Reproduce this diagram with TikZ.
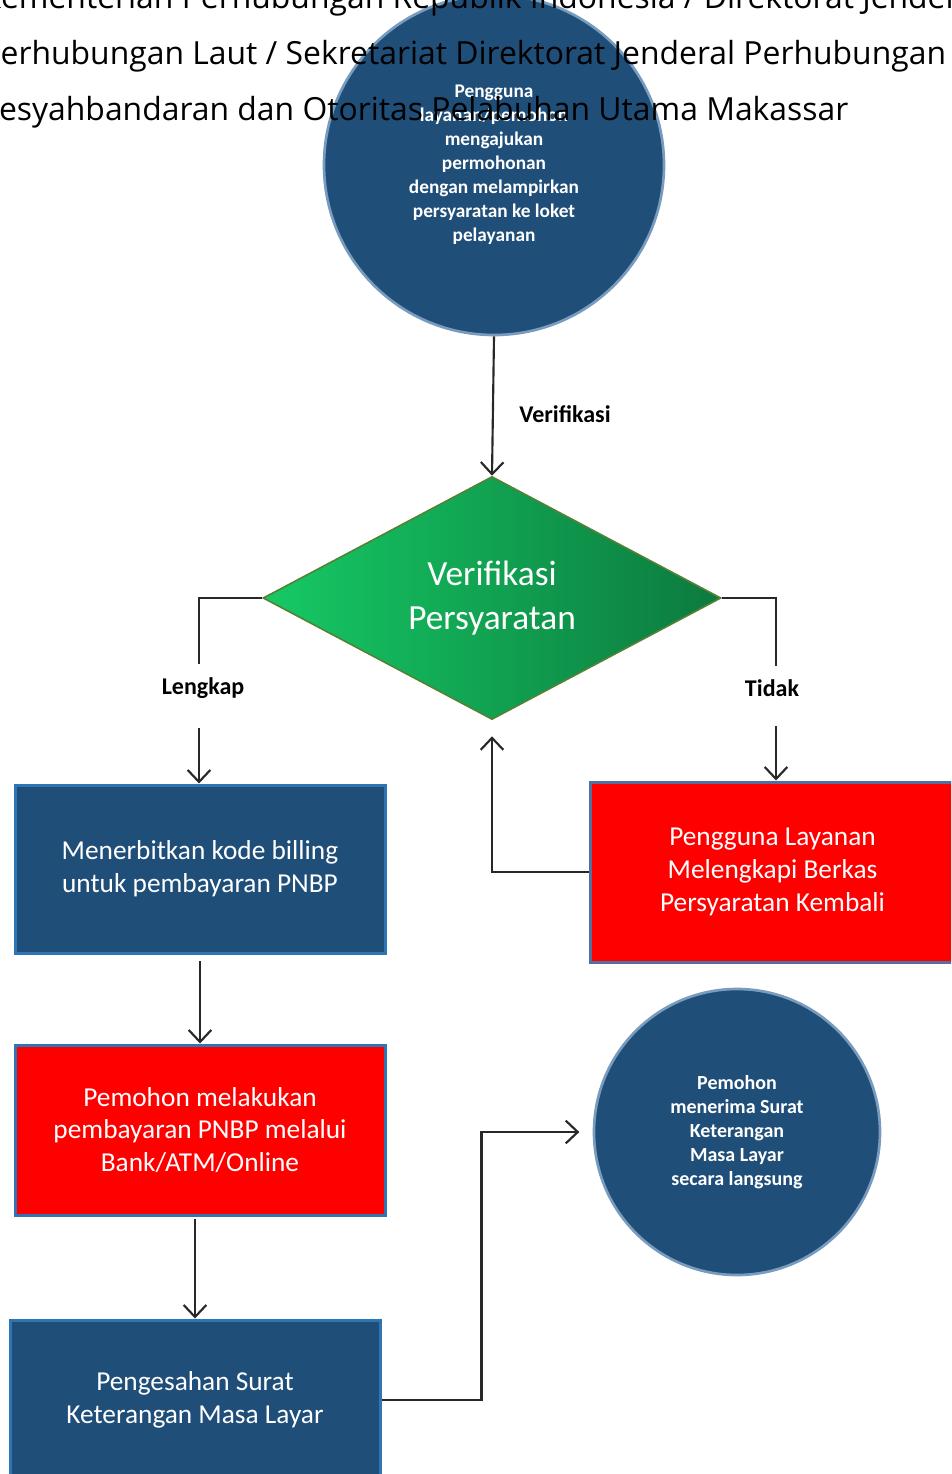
\documentclass[tikz,border=0pt]{standalone}
\usepackage{fontspec}
\setmainfont{Carlito}
\newfontfamily\hdrfont{Open Sans}
\usetikzlibrary{shapes.geometric,arrows.meta}

\definecolor{navy}{RGB}{31,78,121}
\definecolor{edgeblue}{RGB}{46,117,182}
\definecolor{grayblue}{RGB}{84,110,160}
\definecolor{glight}{RGB}{22,201,101}
\definecolor{gdark}{RGB}{12,122,62}
\definecolor{gborder}{RGB}{84,130,53}
\definecolor{linegray}{RGB}{40,40,40}

\tikzset{every picture/.style={line width=0.75pt}}
\tikzset{
  hdr/.style={font=\hdrfont\fontsize{23.9}{28}\selectfont, inner sep=0pt, anchor=base west},
  bulat/.style={circle, fill=navy, draw={rgb,255:red,120;green,155;blue,190}, line width=2pt,
    text=white, font=\fontsize{14.5}{18}\selectfont\bfseries, align=center, inner sep=0pt},
  belah/.style={diamond, draw=gborder, line width=1.2pt, left color=glight, right color=gdark,
    text=white, font=\fontsize{26.5}{33.5}\selectfont, align=center, inner sep=0pt},
  kotak/.style={rectangle, draw=edgeblue, line width=2.25pt, text=white,
    font=\fontsize{20.5}{24.5}\selectfont, align=center, inner sep=0pt},
  lbl/.style={font=\fontsize{18}{20}\selectfont\bfseries, inner sep=0pt},
  garis/.style={draw=linegray, line width=1.6pt},
  arr/.style={garis, -{Straight Barb[length=9pt,width=17pt,line width=1.6pt]}}
}

\begin{document}
\begin{tikzpicture}[x=0.75pt,y=0.75pt,yscale=-1,xscale=1]
	\useasboundingbox (0,0) rectangle (951,1474);
	\clip (0,0) rectangle (951,1474);

	%Shape: Circle [start]
	\node[bulat, minimum size=255pt] (ajukan) at (494,165) {Pengguna\\layanan/pemohon\\mengajukan\\permohonan\\dengan melampirkan\\persyaratan ke loket\\pelayanan};

	% Text Node [header]
	\node[hdr] (hdrA) at (-19,8) {Kementerian Perhubungan Republik Indonesia / Direktorat Jenderal};
	\node[hdr] (hdrB) at (-19,64) {Perhubungan Laut / Sekretariat Direktorat Jenderal Perhubungan};
	\node[hdr] (hdrC) at (-21,120) {Kesyahbandaran dan Otoritas Pelabuhan Utama Makassar};

	%Shape: Diamond
	\node[belah, minimum width=343.5pt, minimum height=182.25pt] (verif) at (492,598) {Verifikasi\\Persyaratan};

	%Shape: Rectangle
	\node[kotak, fill=navy, minimum width=277.5pt, minimum height=126pt] (terbit) at (200,869) {Menerbitkan kode billing\\untuk pembayaran PNBP};
	%Shape: Rectangle
	\node[kotak, fill=red, draw=grayblue, minimum width=273.75pt, minimum height=135pt] (lengkapi) at (772.5,872) {Pengguna Layanan\\Melengkapi Berkas\\Persyaratan Kembali};
	%Shape: Rectangle
	\node[kotak, fill=red, minimum width=277.5pt, minimum height=127.5pt] (bayar) at (200,1130) {Pemohon melakukan\\pembayaran PNBP melalui\\Bank/ATM/Online};
	%Shape: Rectangle
	\node[kotak, fill=navy, minimum width=277.5pt, minimum height=120pt] (sah) at (195,1400) {Pengesahan Surat\\Keterangan Masa Layar};

	%Shape: Circle [end]
	\node[bulat, minimum size=214.5pt, font=\fontsize{15}{18}\selectfont\bfseries] (terima) at (737,1132) {Pemohon\\menerima Surat\\Keterangan\\Masa Layar\\secara langsung};

	% Text Node
	\node[lbl] (lblverif) at (565,414) {Verifikasi};
	% Text Node
	\node[lbl] (lengkap) at (203,688) {Lengkap};
	% Text Node
	\node[lbl] (tidak) at (772,688) {Tidak};

	%Straight Lines
	\draw[arr] (ajukan.south) -- (verif.north);
	\draw[garis] (verif.west) -| ([yshift=-10pt,xshift=-3pt]lengkap.north);
	\draw[arr] ([yshift=22pt,xshift=-3pt]lengkap.south) -- ([xshift=-3pt]lengkap.south |- terbit.north);
	\draw[garis] (verif.east) -| ([yshift=-10pt,xshift=3pt]tidak.north);
	\draw[arr] ([yshift=22pt,xshift=3pt]tidak.south) -- ([xshift=3pt]tidak.south |- lengkapi.north);
	\draw[arr, shorten >=12pt] (lengkapi.west) -| (verif.south);
	\draw[arr, shorten <=5pt] (terbit.south) -- (bayar.north);
	\draw[arr, shorten <=2pt] (bayar.south -| sah.north) -- (sah.north);
	\draw[arr, shorten >=10pt] (sah.east) -- ++(100,0) |- (terima.west);

\end{tikzpicture}
\end{document}
